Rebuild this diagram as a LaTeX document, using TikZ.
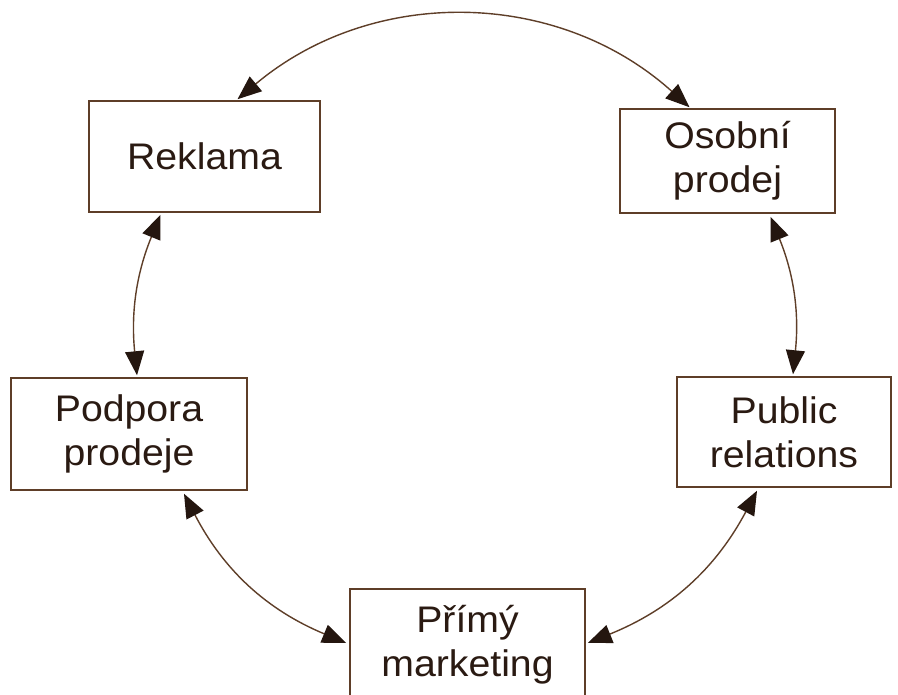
\documentclass[tikz,border=0pt]{standalone}
\usepackage{fontspec}
\setmainfont[FakeStretch=1.06]{Liberation Sans}
\usetikzlibrary{arrows.meta}
\definecolor{txt}{HTML}{2A1A12}
\definecolor{edge}{HTML}{5E3E28}
\definecolor{tipc}{HTML}{24160F}
\tikzset{
  box/.style={draw=edge, line width=1.5pt, fill=white, inner sep=0pt, align=center,
    text=txt, font=\fontsize{37}{44}\selectfont},
  link/.style={draw=edge, line width=1.4pt,
    {Triangle[length=24pt,width=19pt,color=tipc]}-{Triangle[length=24pt,width=19pt,color=tipc]}}
}
\begin{document}
\begin{tikzpicture}[x=1pt,y=1pt]
\useasboundingbox (0,0) rectangle (898,-695);
\clip (0,0) rectangle (898,-695);
\fill[white] (0,0) rectangle (898,-695);
\node[box, minimum width=231pt, minimum height=111pt] (rek) at (204.5,-156.5) {Reklama};
\node[box, minimum width=215pt, minimum height=104pt] (osob) at (727.5,-161) {Osobní\\prodej};
\node[box, minimum width=236pt, minimum height=112pt] (pod) at (129,-434) {Podpora\\prodeje};
\node[box, minimum width=214pt, minimum height=110pt] (pr) at (784,-432) {Public\\relations};
\node[box, minimum width=235pt, minimum height=112pt] (prim) at (467.5,-645) {Přímý\\marketing};

\coordinate (a1) at ([xshift=33pt,yshift=1pt]rek.north);
\coordinate (a2) at ([xshift=-38pt,yshift=1pt]osob.north);
\coordinate (b1) at ([xshift=-44pt,yshift=-2pt]rek.south);
\coordinate (b2) at ([xshift=8pt,yshift=2pt]pod.north);
\coordinate (c1) at ([xshift=43pt,yshift=-3pt]osob.south);
\coordinate (c2) at ([xshift=9pt,yshift=2pt]pr.north);
\coordinate (d1) at ([xshift=55pt,yshift=-3pt]pod.south);
\coordinate (d2) at ([xshift=-3pt,yshift=2pt]prim.west);
\coordinate (e1) at ([xshift=2pt,yshift=2pt]prim.east);
\coordinate (e2) at ([xshift=-27pt,yshift=-3pt]pr.south);

\draw[link] (a1) to[bend left=41] (a2);
\draw[link] (b1) to[bend right=14] (b2);
\draw[link] (c1) to[bend left=14] (c2);
\draw[link] (d1) to[bend right=20] (d2);
\draw[link] (e1) to[bend right=20] (e2);
\end{tikzpicture}
\end{document}
